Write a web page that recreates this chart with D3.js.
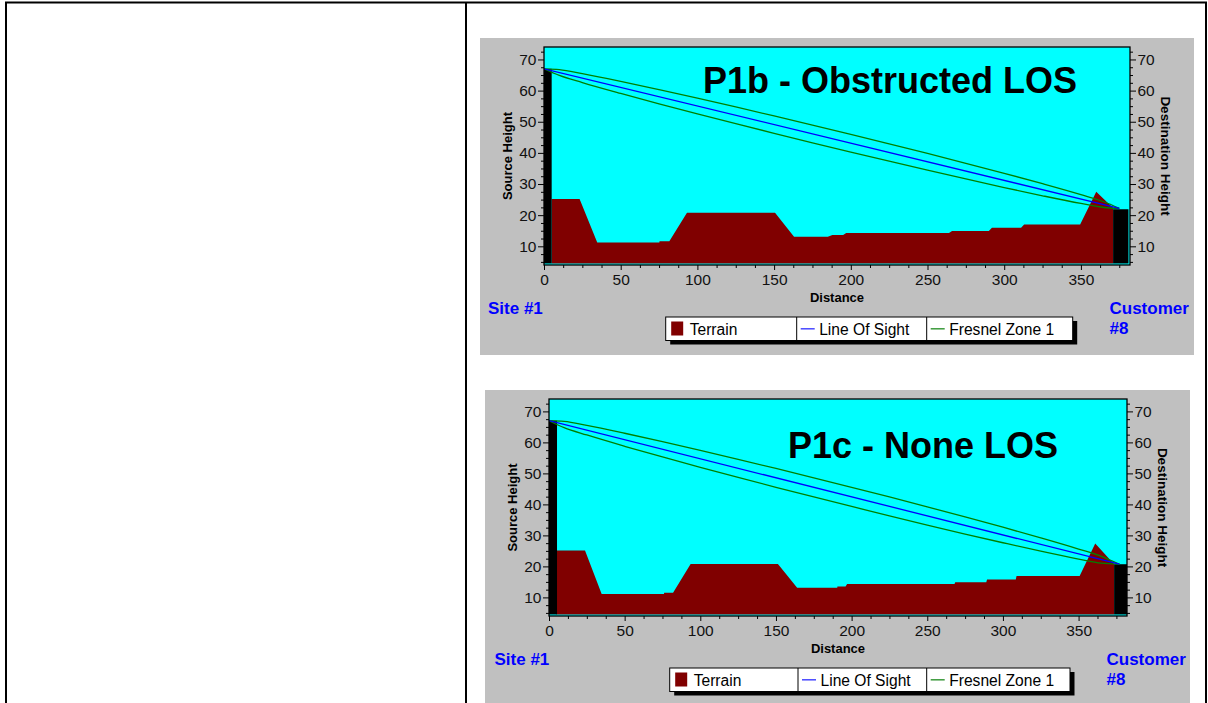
<!DOCTYPE html>
<html>
<head>
<meta charset="utf-8">
<script src="https://cdn.jsdelivr.net/npm/d3@7"></script>
<style>
  html, body { margin: 0; padding: 0; background: #fff; }
  svg { display: block; }
  text { font-family: "Liberation Sans", Arial, sans-serif; }
</style>
</head>
<body>
<svg id="chart" width="1208" height="703"></svg>
<script>
// ---------- data ----------
const distanceTicks = [0, 50, 100, 150, 200, 250, 300, 350];
const heightTicks = [10, 20, 30, 40, 50, 60, 70];
const legendLabels = ["Terrain", "Line Of Sight", "Fresnel Zone 1"];
const sideLabels = ["Site #1", "Customer", "#8"];
const axisTitles = ["Source Height", "Destination Height", "Distance"];

// Chart 1 : P1b - Obstructed LOS
const titleB = "P1b - Obstructed LOS";
const terrainB_dist   = [5, 23.2, 34.7, 75.2, 75.3, 81.7, 93.2, 150.6, 163, 185, 188, 195, 197, 264, 266, 290, 292, 311, 313, 349.5, 360, 371];
const terrainB_height = [25.2, 25.2, 11.2, 11.2, 11.6, 11.6, 20.8, 20.8, 13.1, 13.1, 13.6, 13.6, 14.3, 14.3, 14.9, 14.9, 16.0, 16.0, 17.0, 17.0, 27.5, 22.3];
const sourceTowerB = [0, 5, 67];        // from, to, height
const destTowerB   = [371, 381, 21.9];  // from, to, height
const losB_dist   = [0, 375];
const losB_height = [67, 22.2];
const fresnelB_dist  = [0, 10, 25, 50, 75, 100, 125, 150, 175, 200, 225, 250, 275, 300, 325, 350, 365, 375];
const fresnelB_upper = [67, 66.73, 65.43, 62.97, 60.32, 57.57, 54.76, 51.87, 48.93, 45.95, 42.91, 39.82, 36.67, 33.44, 30.11, 26.60, 24.31, 22.2];
const fresnelB_lower = [67, 64.89, 62.59, 59.09, 55.76, 52.53, 49.38, 46.29, 43.25, 40.27, 37.33, 34.44, 31.63, 28.88, 26.23, 23.76, 22.47, 22.2];

// Chart 2 : P1c - None LOS
const titleC = "P1c - None LOS";
const terrainC_dist   = [5, 23.8, 34.8, 76, 76.1, 82, 93.6, 151.3, 164, 190.5, 190.6, 196, 197, 268, 268.5, 289, 289.5, 308.5, 309, 350.7, 361, 373.5];
const terrainC_height = [25.1, 25.1, 11.1, 11.1, 11.5, 11.5, 20.8, 20.8, 13.1, 13.1, 13.5, 13.5, 14.3, 14.3, 14.9, 14.9, 15.8, 15.8, 16.9, 16.9, 27.4, 20.7];
const sourceTowerC = [0, 5.3, 67];
const destTowerC   = [373.5, 382, 20.7];
const losC_dist   = [0, 377];
const losC_height = [67, 20.7];
const fresnelC_dist  = [0, 10, 25, 50, 75, 100, 125, 150, 175, 200, 225, 250, 275, 300, 325, 350, 365, 377];
const fresnelC_upper = [67, 66.77, 65.47, 62.95, 60.25, 57.45, 54.56, 51.59, 48.58, 45.51, 42.39, 39.20, 35.96, 32.63, 29.20, 25.59, 23.25, 20.7];
const fresnelC_lower = [67, 64.77, 62.39, 58.75, 55.31, 51.97, 48.72, 45.53, 42.40, 39.33, 36.31, 33.34, 30.44, 27.63, 24.90, 22.37, 21.03, 20.7];

// ---------- drawing ----------
const svg = d3.select("#chart");
const FONT = '"Liberation Sans", Arial, sans-serif';

// outer table borders
const borders = svg.append("g").attr("stroke", "#000").attr("stroke-width", 2);
borders.append("line").attr("x1", 5).attr("x2", 1207).attr("y1", 2.5).attr("y2", 2.5);
borders.append("line").attr("x1", 6).attr("x2", 6).attr("y1", 2).attr("y2", 703);
borders.append("line").attr("x1", 466).attr("x2", 466).attr("y1", 2).attr("y2", 703);
borders.append("line").attr("x1", 1206).attr("x2", 1206).attr("y1", 2).attr("y2", 703);

const zip = (a, b) => a.map((v, i) => [v, b[i]]);

function drawChart(cfg, id) {
  const { panel, plot } = cfg;
  const g = svg.append("g");
  g.append("rect").attr("x", panel.x).attr("y", panel.y).attr("width", panel.w).attr("height", panel.h).attr("fill", "#c0c0c0");

  const x = d3.scaleLinear().domain([0, 382]).range([plot.x, plot.x + plot.w]);
  const y = d3.scaleLinear().domain([4, 74]).range([plot.y + plot.h, plot.y]);
  const base = 4.5;

  g.append("rect").attr("x", plot.x).attr("y", plot.y).attr("width", plot.w).attr("height", plot.h).attr("fill", "#00ffff");

  g.append("clipPath").attr("id", "clip" + id).append("rect")
    .attr("x", plot.x).attr("y", plot.y).attr("width", plot.w).attr("height", plot.h);
  const pg = g.append("g").attr("clip-path", `url(#clip${id})`);

  // terrain
  const area = d3.area().x(d => x(d[0])).y0(y(base)).y1(d => y(d[1]));
  pg.append("path").datum(zip(cfg.terrainDist, cfg.terrainHeight)).attr("d", area).attr("fill", "#800000");

  // towers
  [cfg.srcTower, cfg.dstTower].forEach(t => {
    pg.append("rect").attr("x", x(t[0])).attr("width", x(t[1]) - x(t[0]))
      .attr("y", y(t[2])).attr("height", y(base) - y(t[2])).attr("fill", "#000");
  });

  // lines
  const line = d3.line().x(d => x(d[0])).y(d => y(d[1])).curve(d3.curveMonotoneX);
  pg.append("path").datum(zip(cfg.fzDist, cfg.fzUpper)).attr("d", line).attr("fill", "none").attr("stroke", "#008000").attr("stroke-width", 1.3);
  pg.append("path").datum(zip(cfg.fzDist, cfg.fzLower)).attr("d", line).attr("fill", "none").attr("stroke", "#008000").attr("stroke-width", 1.3);
  pg.append("path").datum(zip(cfg.losDist, cfg.losHeight)).attr("d", d3.line().x(d => x(d[0])).y(d => y(d[1])))
    .attr("fill", "none").attr("stroke", "#0000ff").attr("stroke-width", 1.3);

  // frame
  g.append("rect").attr("x", plot.x).attr("y", plot.y).attr("width", plot.w).attr("height", plot.h)
    .attr("fill", "none").attr("stroke", "#000").attr("stroke-width", 1.3);

  // axes
  const yMinor = d3.range(5, 74, 2.5).filter(v => v % 10 !== 0);
  const xMinor = d3.range(0, 382, 12.5).filter(v => v % 50 !== 0);
  const styleAxis = sel => {
    sel.select(".domain").remove();
    sel.selectAll("line").attr("stroke", "#000");
    sel.selectAll("text").attr("fill", "#111").style("font-family", FONT).style("font-size", "15.5px");
  };
  const L = plot.x, R = plot.x + plot.w, B = plot.y + plot.h;
  g.append("g").attr("transform", `translate(${L},0)`).call(d3.axisLeft(y).tickValues(heightTicks).tickSize(6).tickPadding(1.5)).call(styleAxis);
  g.append("g").attr("transform", `translate(${L},0)`).call(d3.axisLeft(y).tickValues(yMinor).tickSize(3).tickFormat("")).call(styleAxis);
  g.append("g").attr("transform", `translate(${R},0)`).call(d3.axisRight(y).tickValues(heightTicks).tickSize(6).tickPadding(1.5)).call(styleAxis);
  g.append("g").attr("transform", `translate(${R},0)`).call(d3.axisRight(y).tickValues(yMinor).tickSize(3).tickFormat("")).call(styleAxis);
  g.append("g").attr("transform", `translate(0,${B})`).call(d3.axisBottom(x).tickValues(distanceTicks).tickSize(5).tickPadding(4)).call(styleAxis);
  g.append("g").attr("transform", `translate(0,${B})`).call(d3.axisBottom(x).tickValues(xMinor).tickSize(3).tickFormat("")).call(styleAxis);

  // axis titles
  const my = plot.y + plot.h / 2;
  g.append("text").attr("transform", `translate(${L - 37},${my}) rotate(-90)`).attr("text-anchor", "middle").attr("dy", "0.35em")
    .style("font-size", "13px").style("font-weight", "bold").attr("fill", "#000").text(axisTitles[0]);
  g.append("text").attr("transform", `translate(${R + 36},${my}) rotate(90)`).attr("text-anchor", "middle").attr("dy", "0.35em")
    .style("font-size", "13.5px").style("font-weight", "bold").attr("fill", "#000").text(axisTitles[1]);
  g.append("text").attr("x", L + plot.w / 2).attr("y", B + 37).attr("text-anchor", "middle")
    .style("font-size", "13px").style("font-weight", "bold").attr("fill", "#000").text(axisTitles[2]);

  // site labels
  g.append("text").attr("x", cfg.siteX).attr("y", B + 49).style("font-size", "17px").style("font-weight", "bold").attr("fill", "#0000ff").text(sideLabels[0]);
  g.append("text").attr("x", R - 20.5).attr("y", B + 49).style("font-size", "17px").style("font-weight", "bold").attr("fill", "#0000ff").text(sideLabels[1]);
  g.append("text").attr("x", R - 20.5).attr("y", B + 68.5).style("font-size", "17px").style("font-weight", "bold").attr("fill", "#0000ff").text(sideLabels[2]);

  // legend
  const lw = cfg.legendWidths, lh = 23.5;
  const total = d3.sum(lw);
  const lg = g.append("g").attr("transform", `translate(${L + cfg.legendDx},${B + 52})`);
  lg.append("rect").attr("x", 4.5).attr("y", 4).attr("width", total).attr("height", lh).attr("fill", "#000");
  lg.append("rect").attr("x", 0).attr("y", 0).attr("width", total).attr("height", lh).attr("fill", "#fff").attr("stroke", "#000").attr("stroke-width", 1);
  let cx = 0;
  lw.forEach((w, i) => {
    if (i > 0) lg.append("line").attr("x1", cx).attr("x2", cx).attr("y1", 0).attr("y2", lh).attr("stroke", "#000");
    if (i === 0) {
      lg.append("rect").attr("x", cx + 5.5).attr("y", 4.5).attr("width", 12).attr("height", 14).attr("fill", "#800000");
      lg.append("text").attr("x", cx + 24).attr("y", 17.5).style("font-size", "15.6px").attr("fill", "#000").text(legendLabels[i]);
    } else {
      lg.append("line").attr("x1", cx + 4).attr("x2", cx + 18).attr("y1", 11.8).attr("y2", 11.8)
        .attr("stroke", i === 1 ? "#4848ff" : "#3c9a3c").attr("stroke-width", 1.5);
      lg.append("text").attr("x", cx + 22.5).attr("y", 17.5).style("font-size", "15.6px").attr("fill", "#000").text(legendLabels[i]);
    }
    cx += w;
  });

  // title
  g.append("text").attr("x", cfg.titleX).attr("y", cfg.titleY).style("font-size", "36px").style("font-weight", "bold")
    .attr("fill", "#000").text(cfg.title);
}

drawChart({
  panel: { x: 480, y: 38, w: 714, h: 317 },
  plot: { x: 544, y: 47, w: 586, h: 218 },
  terrainDist: terrainB_dist, terrainHeight: terrainB_height,
  srcTower: sourceTowerB, dstTower: destTowerB,
  losDist: losB_dist, losHeight: losB_height,
  fzDist: fresnelB_dist, fzUpper: fresnelB_upper, fzLower: fresnelB_lower,
  title: titleB, titleX: 703, titleY: 93,
  siteX: 488, legendDx: 121.7, legendWidths: [131, 130, 146]
}, "B");

drawChart({
  panel: { x: 485, y: 390, w: 705, h: 320 },
  plot: { x: 549, y: 399, w: 578, h: 217 },
  terrainDist: terrainC_dist, terrainHeight: terrainC_height,
  srcTower: sourceTowerC, dstTower: destTowerC,
  losDist: losC_dist, losHeight: losC_height,
  fzDist: fresnelC_dist, fzUpper: fresnelC_upper, fzLower: fresnelC_lower,
  title: titleC, titleX: 788, titleY: 458,
  siteX: 494.5, legendDx: 120.7, legendWidths: [128.3, 128.7, 143.3]
}, "C");
</script>
</body>
</html>
